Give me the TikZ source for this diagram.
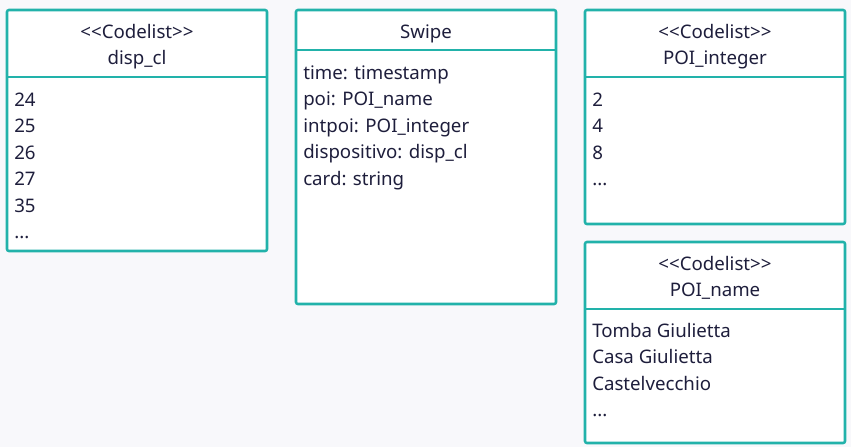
\documentclass[tikz,border=0pt]{standalone}
\usepackage{fontspec}
\newfontfamily\uifont{Noto Sans}
\definecolor{boxteal}{HTML}{22B2AA}
\definecolor{ink}{HTML}{1E1E3C}
\definecolor{pagebg}{HTML}{F8F8FB}
\tikzset{
  umlbox/.style={draw=boxteal, line width=1.9pt, fill=white, rounded corners=1.5pt},
  sepline/.style={draw=boxteal, line width=1.9pt},
  hdr/.style={text=ink, inner sep=0pt, anchor=base, font=\uifont\fontsize{14}{16}\selectfont},
  item/.style={text=ink, inner sep=0pt, anchor=base west, font=\uifont\fontsize{14}{16}\selectfont},
}
\begin{document}
\begin{tikzpicture}[x=0.75pt,y=-0.75pt]
\fill[pagebg] (0,0) rectangle (851,447);
\useasboundingbox (0,0) rectangle (851,447);

% disp_cl
\draw[umlbox] (7,10) rectangle (267,251);
\draw[sepline] (7,77) -- (267,77);
\node[hdr] (d1) at (137,38) {<<Codelist>>};
\node[hdr] (d2) at (137,64) {disp\_cl};
\node[item] (d3) at (14,106) {24};
\node[item] (d4) at (14,132.5) {25};
\node[item] (d5) at (14,159) {26};
\node[item] (d6) at (14,185.5) {27};
\node[item] (d7) at (14,212) {35};
\node[item] (d8) at (14,238.5) {...};

% Swipe
\draw[umlbox] (296,10) rectangle (556,304);
\draw[sepline] (296,50) -- (556,50);
\node[hdr] (s1) at (426,38) {Swipe};
\node[item] (s2) at (303,79) {time: timestamp};
\node[item] (s3) at (303,105.5) {poi: POI\_name};
\node[item] (s4) at (303,132) {intpoi: POI\_integer};
\node[item] (s5) at (303,158.5) {dispositivo: disp\_cl};
\node[item] (s6) at (303,185) {card: string};

% POI_integer
\draw[umlbox] (585,10) rectangle (845,224);
\draw[sepline] (585,77) -- (845,77);
\node[hdr] (i1) at (715,38) {<<Codelist>>};
\node[hdr] (i2) at (715,64) {POI\_integer};
\node[item] (i3) at (592,106) {2};
\node[item] (i4) at (592,132.5) {4};
\node[item] (i5) at (592,159) {8};
\node[item] (i6) at (592,185.5) {...};

% POI_name
\draw[umlbox] (585,242) rectangle (845,443);
\draw[sepline] (585,309) -- (845,309);
\node[hdr] (n1) at (715,270) {<<Codelist>>};
\node[hdr] (n2) at (715,296) {POI\_name};
\node[item] (n3) at (592,337) {Tomba Giulietta};
\node[item] (n4) at (592,363.5) {Casa Giulietta};
\node[item] (n5) at (592,390) {Castelvecchio};
\node[item] (n6) at (592,416.5) {...};
\end{tikzpicture}
\end{document}
